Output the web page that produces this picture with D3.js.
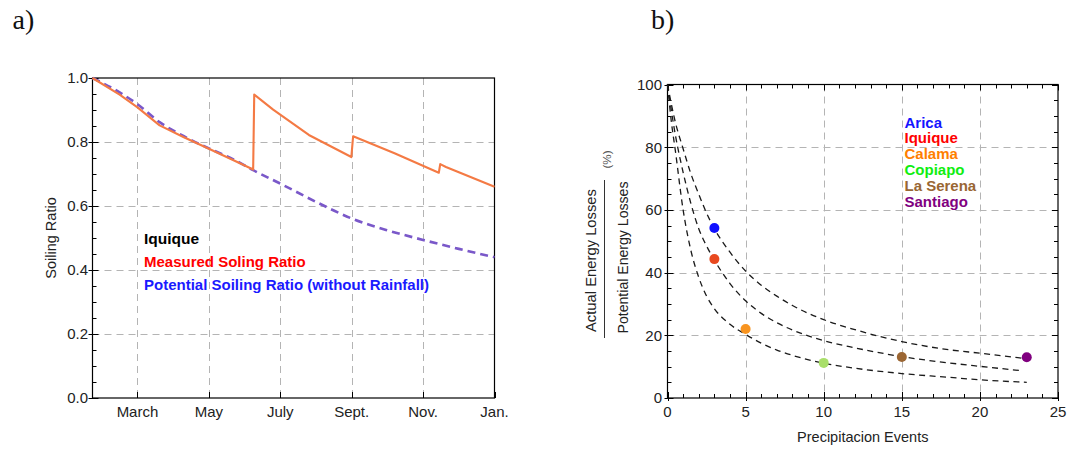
<!DOCTYPE html>
<html><head><meta charset="utf-8">
<script src="https://cdn.jsdelivr.net/npm/d3@7"></script>
<style>
body{margin:0;background:#fff}
svg{display:block}
text{font-family:"Liberation Sans",Arial,Helvetica,sans-serif}
</style>
</head><body>
<svg id="c" width="1085" height="450"></svg>
<script>
// ---------- Panel a) data ----------
const monthTicks = [3, 5, 7, 9, 11, 13];
const monthLabels = ["March", "May", "July", "Sept.", "Nov.", "Jan."];
const ratioTicks = [0, 0.2, 0.4, 0.6, 0.8, 1.0];
const ratioTickLabels = ["0.0", "0.2", "0.4", "0.6", "0.8", "1.0"];
const measuredMonth = [1.74, 2.5, 3.0, 3.62, 4.3, 5.0, 5.69, 6.24, 6.27, 6.80, 7.80, 8.99, 9.04, 10.2, 11.44, 11.48, 11.64, 13.0];
const measuredRatio = [1.0, 0.948, 0.908, 0.852, 0.815, 0.779, 0.743, 0.714, 0.948, 0.901, 0.822, 0.753, 0.818, 0.765, 0.704, 0.731, 0.722, 0.660];
const potentialMonth = [1.74, 2.5, 3.0, 3.62, 4.3, 5.0, 5.7, 6.24, 7.0, 8.0, 9.0, 10.0, 11.0, 12.0, 13.0];
const potentialRatio = [1.0, 0.955, 0.918, 0.862, 0.818, 0.780, 0.745, 0.712, 0.670, 0.613, 0.561, 0.524, 0.494, 0.466, 0.440];
const panelATexts = ["Iquique", "Measured Soling Ratio", "Potential Soiling Ratio (without Rainfall)"];

// ---------- Panel b) data ----------
const eventTicks = [0, 5, 10, 15, 20, 25];
const lossTicks = [0, 20, 40, 60, 80, 100];
const cities = ["Arica", "Iquique", "Calama", "Copiapo", "La Serena", "Santiago"];
const cityEvents = [3, 3, 5, 10, 15, 23];
const cityLoss = [54.2, 44.3, 22.0, 11.2, 13.1, 13.0];
const curveUpperEvents = [0, 0.5, 1, 1.5, 2, 2.5, 3, 4, 5, 6, 7, 8, 10, 12, 15, 18, 20, 22.7];
const curveUpperLoss   = [100, 88, 79.5, 71.5, 65, 59, 54, 46.5, 40.5, 36, 32.5, 29.5, 25, 21.8, 18, 15.4, 14.3, 12.7];
const curveMiddleEvents = [0, 0.5, 1, 1.5, 2, 2.5, 3, 4, 5, 6, 7, 8, 10, 12, 15, 18, 20, 22.7];
const curveMiddleLoss   = [100, 84, 72, 62, 54, 48.5, 44, 36.5, 31, 27, 24, 21.7, 18.3, 16, 13.2, 11.2, 10.1, 8.7];
const curveLowerEvents = [0, 0.25, 0.5, 1, 1.5, 2, 2.5, 3, 4, 5, 6, 7, 8, 10, 12, 15, 18, 20, 23];
const curveLowerLoss   = [100, 88, 79, 60, 47, 38.5, 32.5, 28.5, 23.5, 20.3, 17.5, 15.3, 13.6, 11.1, 9.5, 7.8, 6.6, 5.8, 5.0];

// ---------- styles ----------
const legendColors = ["#1414ff", "#ff0000", "#ff8000", "#10ee10", "#996633", "#800080"];
const dotColors = ["#1010ff", "#e8491f", "#f89420", "#a9df6a", "#9b6633", "#80007f"];
const gridColor = "#b4b4b4";

const svg = d3.select("#c");

// ================= Panel a =================
const A = {x0: 92.5, x1: 494.5, y0: 78, y1: 398};
const xa = d3.scaleLinear().domain([1.74, 13]).range([A.x0, A.x1]);
const ya = d3.scaleLinear().domain([0, 1]).range([A.y1, A.y0]);
const ga = svg.append("g");

// grid
ga.selectAll(".vg").data(monthTicks.filter(d => d < 13)).join("line")
  .attr("x1", d => Math.round(xa(d)) + 0.5).attr("x2", d => Math.round(xa(d)) + 0.5)
  .attr("y1", A.y0).attr("y2", A.y1)
  .attr("stroke", gridColor).attr("stroke-dasharray", "7,5");
ga.selectAll(".hg").data(ratioTicks.filter(d => d > 0 && d < 1)).join("line")
  .attr("x1", A.x0).attr("x2", A.x1)
  .attr("y1", d => Math.round(ya(d)) + 0.5).attr("y2", d => Math.round(ya(d)) + 0.5)
  .attr("stroke", gridColor).attr("stroke-dasharray", "7,5");

// ticks
const aMinor = d3.range(0.05, 1.0, 0.05).filter(v => Math.abs(v * 5 - Math.round(v * 5)) > 1e-6);
ga.selectAll(".ymt").data(aMinor).join("line")
  .attr("x1", A.x0).attr("x2", A.x0 + 4)
  .attr("y1", d => Math.round(ya(d)) + 0.5).attr("y2", d => Math.round(ya(d)) + 0.5)
  .attr("stroke", "#000");
ga.selectAll(".yMt").data(ratioTicks).join("line")
  .attr("x1", A.x0 - 4).attr("x2", A.x0 + 6)
  .attr("y1", d => Math.round(ya(d)) + 0.5).attr("y2", d => Math.round(ya(d)) + 0.5)
  .attr("stroke", "#000");
ga.selectAll(".xMt").data(monthTicks).join("line")
  .attr("x1", d => Math.round(xa(d)) + 0.5).attr("x2", d => Math.round(xa(d)) + 0.5)
  .attr("y1", A.y1).attr("y2", A.y1 - 6)
  .attr("stroke", "#000");

// frame
ga.append("rect").attr("x", A.x0).attr("y", A.y0)
  .attr("width", A.x1 - A.x0).attr("height", A.y1 - A.y0)
  .attr("fill", "none").attr("stroke", "#000").attr("stroke-width", 1.2);

// tick labels
ga.selectAll(".yl").data(ratioTicks).join("text")
  .attr("x", A.x0 - 4.5).attr("y", d => ya(d) + 5.3)
  .attr("text-anchor", "end").attr("font-size", 15).attr("fill", "#222")
  .text((d, i) => ratioTickLabels[i]);
ga.selectAll(".xl").data(monthTicks).join("text")
  .attr("x", d => xa(d)).attr("y", 417)
  .attr("text-anchor", "middle").attr("font-size", 15).attr("fill", "#222")
  .text((d, i) => monthLabels[i]);
ga.append("text").attr("transform", "translate(55.5,238) rotate(-90)")
  .attr("text-anchor", "middle").attr("font-size", 14.5).attr("fill", "#222")
  .text("Soiling Ratio");

// lines
ga.append("path")
  .datum(potentialMonth.map((m, i) => [m, potentialRatio[i]]))
  .attr("d", d3.line().x(d => xa(d[0])).y(d => ya(d[1])).curve(d3.curveMonotoneX))
  .attr("fill", "none").attr("stroke", "#7a58c9").attr("stroke-width", 2.6)
  .attr("stroke-dasharray", "8,5");
ga.append("path")
  .datum(measuredMonth.map((m, i) => [m, measuredRatio[i]]))
  .attr("d", d3.line().x(d => xa(d[0])).y(d => ya(d[1])))
  .attr("fill", "none").attr("stroke", "#f47a44").attr("stroke-width", 2.1)
  .attr("stroke-linejoin", "round");

// panel texts
const aTextColors = ["#000", "#ff0000", "#1a1aff"];
const aTextY = [244, 267, 289.5];
const aTextSize = [15.5, 15, 15];
ga.selectAll(".at").data(panelATexts).join("text")
  .attr("x", 144).attr("y", (d, i) => aTextY[i])
  .attr("font-size", (d, i) => aTextSize[i]).attr("font-weight", "bold")
  .attr("fill", (d, i) => aTextColors[i]).text(d => d);

svg.append("text").attr("x", 12.5).attr("y", 28.5)
  .style("font-family", "'Liberation Serif','Times New Roman',serif")
  .attr("font-size", 28).attr("fill", "#111").text("a)");

// ================= Panel b =================
const B = {x0: 667.5, x1: 1058, y0: 84.5, y1: 398};
const xb = d3.scaleLinear().domain([0, 25]).range([B.x0, B.x1]);
const yb = d3.scaleLinear().domain([0, 100]).range([B.y1, B.y0]);
const gb = svg.append("g");

gb.selectAll(".vg").data(eventTicks.filter(d => d > 0 && d < 25)).join("line")
  .attr("x1", d => Math.round(xb(d)) + 0.5).attr("x2", d => Math.round(xb(d)) + 0.5)
  .attr("y1", B.y0).attr("y2", B.y1)
  .attr("stroke", gridColor).attr("stroke-dasharray", "7,5");
gb.selectAll(".hg").data(lossTicks.filter(d => d > 0 && d < 100)).join("line")
  .attr("x1", B.x0).attr("x2", B.x1)
  .attr("y1", d => Math.round(yb(d)) + 0.5).attr("y2", d => Math.round(yb(d)) + 0.5)
  .attr("stroke", gridColor).attr("stroke-dasharray", "7,5");

// ticks on all four sides
const xMinorB = d3.range(1, 25).filter(v => v % 5 !== 0);
const yMinorB = d3.range(5, 100, 5).filter(v => v % 20 !== 0);
const tk = (sel, cls, data, f) => sel.selectAll(cls).data(data).join("line").each(f).attr("stroke", "#000");
tk(gb, ".t1", xMinorB, function(d){ const x=Math.round(xb(d))+0.5; d3.select(this).attr("x1",x).attr("x2",x).attr("y1",B.y1).attr("y2",B.y1-4); });
tk(gb, ".t2", xMinorB, function(d){ const x=Math.round(xb(d))+0.5; d3.select(this).attr("x1",x).attr("x2",x).attr("y1",B.y0).attr("y2",B.y0+4); });
tk(gb, ".t3", eventTicks, function(d){ const x=Math.round(xb(d))+0.5; d3.select(this).attr("x1",x).attr("x2",x).attr("y1",B.y1+3).attr("y2",B.y1-6); });
tk(gb, ".t4", eventTicks, function(d){ const x=Math.round(xb(d))+0.5; d3.select(this).attr("x1",x).attr("x2",x).attr("y1",B.y0).attr("y2",B.y0+6); });
tk(gb, ".t5", yMinorB, function(d){ const y=Math.round(yb(d))+0.5; d3.select(this).attr("x1",B.x0).attr("x2",B.x0+4).attr("y1",y).attr("y2",y); });
tk(gb, ".t6", yMinorB, function(d){ const y=Math.round(yb(d))+0.5; d3.select(this).attr("x1",B.x1).attr("x2",B.x1-4).attr("y1",y).attr("y2",y); });
tk(gb, ".t7", lossTicks, function(d){ const y=Math.round(yb(d))+0.5; d3.select(this).attr("x1",B.x0-3).attr("x2",B.x0+6).attr("y1",y).attr("y2",y); });
tk(gb, ".t8", lossTicks, function(d){ const y=Math.round(yb(d))+0.5; d3.select(this).attr("x1",B.x1).attr("x2",B.x1-6).attr("y1",y).attr("y2",y); });

gb.append("rect").attr("x", B.x0).attr("y", B.y0)
  .attr("width", B.x1 - B.x0).attr("height", B.y1 - B.y0)
  .attr("fill", "none").attr("stroke", "#000").attr("stroke-width", 1.2);

gb.selectAll(".yl").data(lossTicks).join("text")
  .attr("x", B.x0 - 5.5).attr("y", d => yb(d) + 5.3)
  .attr("text-anchor", "end").attr("font-size", 15).attr("fill", "#222").text(d => d);
gb.selectAll(".xl").data(eventTicks).join("text")
  .attr("x", d => xb(d)).attr("y", 417)
  .attr("text-anchor", "middle").attr("font-size", 15).attr("fill", "#222").text(d => d);
gb.append("text").attr("x", (B.x0 + B.x1) / 2).attr("y", 442)
  .attr("text-anchor", "middle").attr("font-size", 14.5).attr("fill", "#222")
  .text("Precipitacion Events");

// fraction y label
gb.append("text").attr("transform", "translate(595.5,332) rotate(-90)")
  .attr("font-size", 14.8).attr("fill", "#222")
  .attr("textLength", 143).attr("lengthAdjust", "spacingAndGlyphs")
  .text("Actual Energy Losses");
gb.append("text").attr("transform", "translate(627.5,333.5) rotate(-90)")
  .attr("font-size", 14.8).attr("fill", "#222")
  .attr("textLength", 152).attr("lengthAdjust", "spacingAndGlyphs")
  .text("Potential Energy Losses");
gb.append("line").attr("x1", 604.5).attr("x2", 604.5).attr("y1", 180).attr("y2", 338)
  .attr("stroke", "#333").attr("stroke-width", 1);
gb.append("text").attr("transform", "translate(610.5,168.5) rotate(-90)")
  .attr("font-size", 11).attr("fill", "#555")
  .attr("textLength", 18).attr("lengthAdjust", "spacingAndGlyphs")
  .text("(%)");

// curves
const lineB = d3.line().x(d => xb(d[0])).y(d => yb(d[1])).curve(d3.curveMonotoneX);
const curves = [
  [curveUpperEvents, curveUpperLoss],
  [curveMiddleEvents, curveMiddleLoss],
  [curveLowerEvents, curveLowerLoss]
];
gb.selectAll(".cv").data(curves).join("path")
  .attr("d", c => lineB(c[0].map((e, i) => [e, c[1][i]])))
  .attr("fill", "none").attr("stroke", "#1a1a1a").attr("stroke-width", 1.3)
  .attr("stroke-dasharray", "6,4.5");

// points
gb.selectAll(".pt").data(cities).join("circle")
  .attr("cx", (d, i) => xb(cityEvents[i])).attr("cy", (d, i) => yb(cityLoss[i]))
  .attr("r", 5).attr("fill", (d, i) => dotColors[i]);

// legend
gb.selectAll(".lg").data(cities).join("text")
  .attr("x", 904.5).attr("y", (d, i) => 127.5 + i * 15.8)
  .attr("font-size", 15).attr("font-weight", "bold")
  .attr("fill", (d, i) => legendColors[i]).text(d => d);

svg.append("text").attr("x", 651).attr("y", 28.5)
  .style("font-family", "'Liberation Serif','Times New Roman',serif")
  .attr("font-size", 28).attr("fill", "#111").text("b)");
</script>
</body></html>
